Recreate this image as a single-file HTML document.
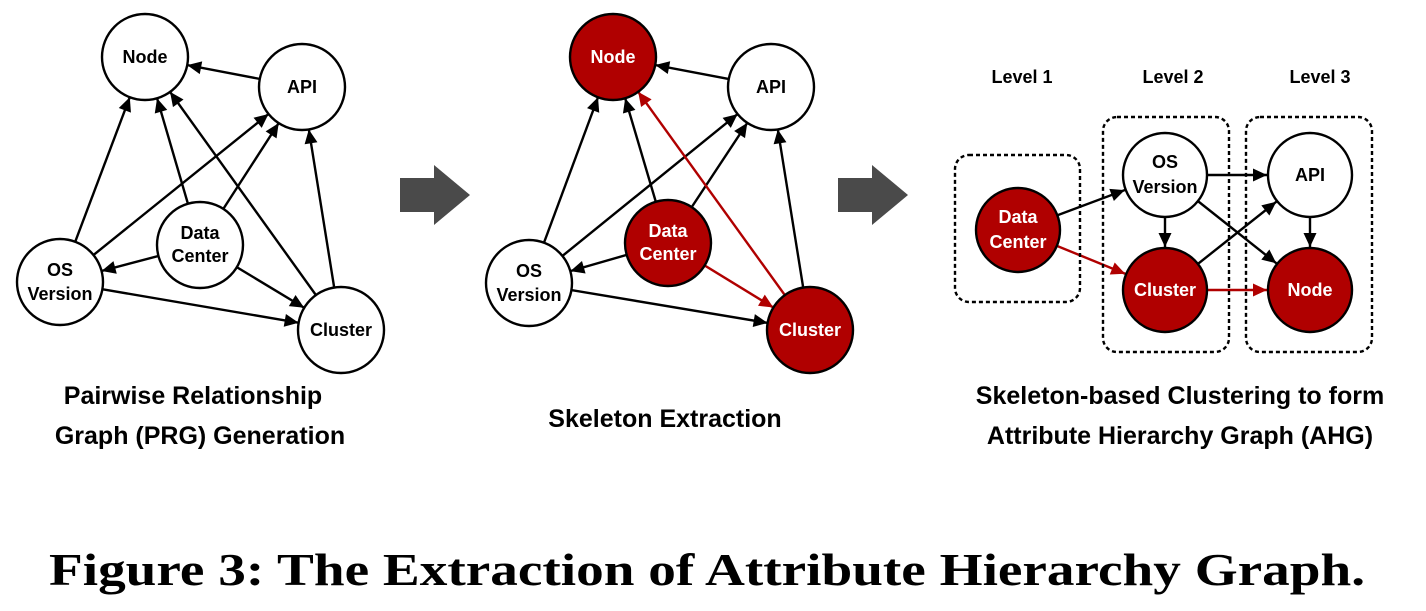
<!DOCTYPE html>
<html><head><meta charset="utf-8"><style>
body{margin:0;background:#fff;}
svg text{font-family:"Liberation Sans",sans-serif;font-weight:bold;}
</style></head><body>
<svg width="1426" height="606" viewBox="0 0 1426 606" xmlns="http://www.w3.org/2000/svg">
<defs>
<marker id="a" markerUnits="userSpaceOnUse" markerWidth="10" markerHeight="10" refX="0" refY="0" orient="auto" style="overflow:visible"><path d="M-43,0 L-57,-6.5 L-57,6.5 Z" fill="#000"/></marker>
<marker id="r" markerUnits="userSpaceOnUse" markerWidth="10" markerHeight="10" refX="0" refY="0" orient="auto" style="overflow:visible"><path d="M-43,0 L-57,-6.5 L-57,6.5 Z" fill="#b00000"/></marker>
</defs>
<g stroke="#000" stroke-width="2.4" fill="none">
<line x1="302" y1="87" x2="145" y2="57" marker-end="url(#a)"/>
<line x1="60" y1="282" x2="145" y2="57" marker-end="url(#a)"/>
<line x1="200" y1="245" x2="145" y2="57" marker-end="url(#a)"/>
<line x1="341" y1="330" x2="145" y2="57" marker-end="url(#a)"/>
<line x1="60" y1="282" x2="302" y2="87" marker-end="url(#a)"/>
<line x1="200" y1="245" x2="302" y2="87" marker-end="url(#a)"/>
<line x1="341" y1="330" x2="302" y2="87" marker-end="url(#a)"/>
<line x1="200" y1="245" x2="60" y2="282" marker-end="url(#a)"/>
<line x1="200" y1="245" x2="341" y2="330" marker-end="url(#a)"/>
<line x1="60" y1="282" x2="341" y2="330" marker-end="url(#a)"/>
<line x1="771" y1="87" x2="613" y2="57" marker-end="url(#a)"/>
<line x1="529" y1="283" x2="613" y2="57" marker-end="url(#a)"/>
<line x1="668" y1="243" x2="613" y2="57" marker-end="url(#a)"/>
<line x1="529" y1="283" x2="771" y2="87" marker-end="url(#a)"/>
<line x1="668" y1="243" x2="771" y2="87" marker-end="url(#a)"/>
<line x1="810" y1="330" x2="771" y2="87" marker-end="url(#a)"/>
<line x1="668" y1="243" x2="529" y2="283" marker-end="url(#a)"/>
<line x1="529" y1="283" x2="810" y2="330" marker-end="url(#a)"/>
<line x1="810" y1="330" x2="613" y2="57" stroke="#b00000" marker-end="url(#r)"/>
<line x1="668" y1="243" x2="810" y2="330" stroke="#b00000" marker-end="url(#r)"/>
<line x1="1018" y1="230" x2="1165" y2="175" marker-end="url(#a)"/>
<line x1="1165" y1="175" x2="1165" y2="290" marker-end="url(#a)"/>
<line x1="1165" y1="175" x2="1310" y2="175" marker-end="url(#a)"/>
<line x1="1165" y1="175" x2="1310" y2="290" marker-end="url(#a)"/>
<line x1="1165" y1="290" x2="1310" y2="175" marker-end="url(#a)"/>
<line x1="1310" y1="175" x2="1310" y2="290" marker-end="url(#a)"/>
<line x1="1018" y1="230" x2="1165" y2="290" stroke="#b00000" marker-end="url(#r)"/>
<line x1="1165" y1="290" x2="1310" y2="290" stroke="#b00000" marker-end="url(#r)"/>
<rect x="955" y="155" width="125" height="147" rx="14" stroke-dasharray="4,3"/>
<rect x="1103" y="117" width="126" height="235" rx="14" stroke-dasharray="4,3"/>
<rect x="1246" y="117" width="126" height="235" rx="14" stroke-dasharray="4,3"/>
</g>
<polygon points="400,178 434,178 434,165 470,195 434,225 434,212 400,212" fill="#4a4a4a"/>
<polygon points="838,178 872,178 872,165 908,195 872,225 872,212 838,212" fill="#4a4a4a"/>
<g stroke="#000" stroke-width="2.4">
<circle cx="145" cy="57" r="43" fill="#fff"/>
<circle cx="302" cy="87" r="43" fill="#fff"/>
<circle cx="200" cy="245" r="43" fill="#fff"/>
<circle cx="60" cy="282" r="43" fill="#fff"/>
<circle cx="341" cy="330" r="43" fill="#fff"/>
<circle cx="613" cy="57" r="43" fill="#b00000"/>
<circle cx="771" cy="87" r="43" fill="#fff"/>
<circle cx="668" cy="243" r="43" fill="#b00000"/>
<circle cx="529" cy="283" r="43" fill="#fff"/>
<circle cx="810" cy="330" r="43" fill="#b00000"/>
<circle cx="1018" cy="230" r="42" fill="#b00000"/>
<circle cx="1165" cy="175" r="42" fill="#fff"/>
<circle cx="1165" cy="290" r="42" fill="#b00000"/>
<circle cx="1310" cy="175" r="42" fill="#fff"/>
<circle cx="1310" cy="290" r="42" fill="#b00000"/>
</g>
<g font-size="18" text-anchor="middle">
<text x="145" y="63">Node</text>
<text x="302" y="93">API</text>
<text x="200" y="239">Data</text><text x="200" y="262">Center</text>
<text x="60" y="276">OS</text><text x="60" y="300">Version</text>
<text x="341" y="336">Cluster</text>
<g fill="#fff"><text x="613" y="63">Node</text>
<text x="668" y="237">Data</text><text x="668" y="260">Center</text>
<text x="810" y="336">Cluster</text></g>
<text x="771" y="93">API</text>
<text x="529" y="277">OS</text><text x="529" y="301">Version</text>
<g fill="#fff"><text x="1018" y="223">Data</text><text x="1018" y="248">Center</text>
<text x="1165" y="296">Cluster</text><text x="1310" y="296">Node</text></g>
<text x="1165" y="168">OS</text><text x="1165" y="193">Version</text>
<text x="1310" y="181">API</text>
<text x="1022" y="83">Level 1</text><text x="1173" y="83">Level 2</text><text x="1320" y="83">Level 3</text>
</g>
<g font-size="25" text-anchor="middle">
<text x="193" y="404">Pairwise Relationship</text>
<text x="200" y="444">Graph (PRG) Generation</text>
<text x="665" y="427">Skeleton Extraction</text>
<text x="1180" y="404">Skeleton-based Clustering to form</text>
<text x="1180" y="444">Attribute Hierarchy Graph (AHG)</text>
</g>
<text x="707" y="585" text-anchor="middle" font-size="46" style="font-family:'Liberation Serif',serif;font-weight:bold" textLength="1316" lengthAdjust="spacingAndGlyphs">Figure 3: The Extraction of Attribute Hierarchy Graph.</text>
</svg>
</body></html>
